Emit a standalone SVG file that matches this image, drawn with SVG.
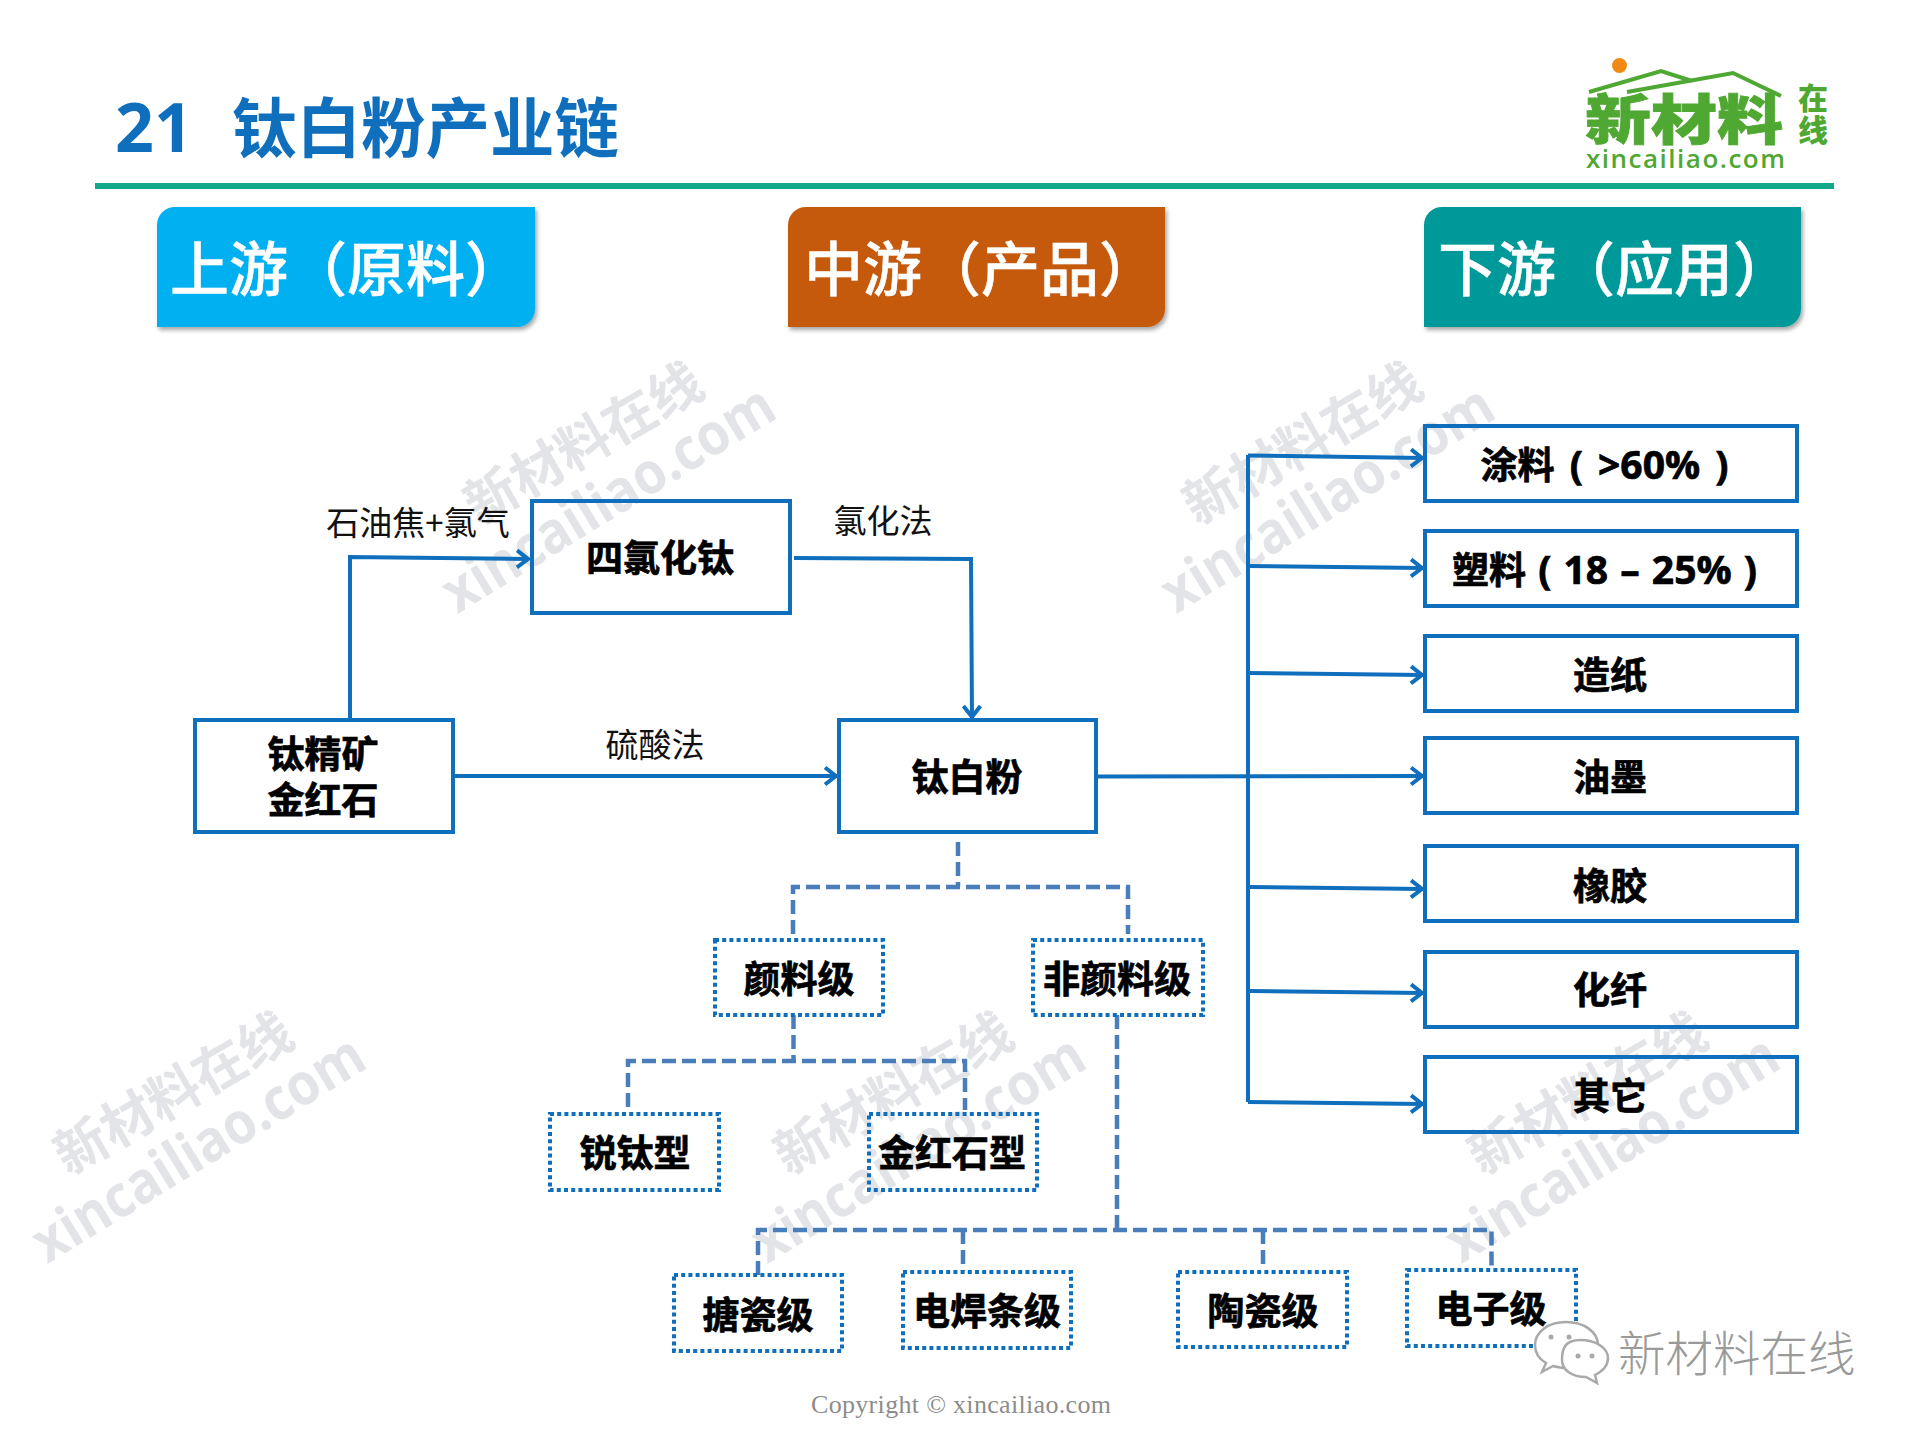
<svg xmlns="http://www.w3.org/2000/svg" width="1920" height="1440" viewBox="0 0 1920 1440">
<style>
text{font-family:"Noto Sans CJK SC","Noto Sans",sans-serif}
.box{fill:none;stroke:#0F6FBD;stroke-width:4}
.dot{fill:none;stroke:#0F6FBD;stroke-width:4;stroke-dasharray:4 3.2}
.lab{font-size:37px;font-weight:700;fill:#000;text-anchor:middle;stroke:#000;stroke-width:.7}
.thin{font-size:33px;fill:#111;text-anchor:middle}
.head{font-size:59px;fill:#fff;font-weight:500;stroke:#fff;stroke-width:.5}
.wm{font-weight:700;fill:#E2E4E7}
.wm1{font-size:53px}
.wm2{font-size:58px;font-family:"Open Sans",sans-serif}
.con{fill:none;stroke:#0F6FBD;stroke-width:4}
.arr{marker-end:url(#a)}
.dash{fill:none;stroke:#4A7EBB;stroke-width:4.500;stroke-dasharray:14 6}
.lat{font-family:"Open Sans","Noto Sans CJK SC",sans-serif;font-size:39px}
</style>
<defs>
<marker id="a" markerUnits="userSpaceOnUse" markerWidth="24" markerHeight="24" viewBox="0 0 24 24" refX="20" refY="12" orient="auto"><path d="M8,3.500L19,12L8,20.500" fill="none" stroke="#0F6FBD" stroke-width="4"/></marker>
<filter id="s" x="-5%" y="-5%" width="112%" height="115%"><feDropShadow dx="2" dy="3" stdDeviation="2" flood-color="#000" flood-opacity=".35"/></filter>
</defs>
<rect width="1920" height="1440" fill="#fff"/>
<g id="watermarks">
<g transform="translate(478,526) rotate(-30)"><text class="wm wm1">新材料在线</text><text class="wm wm2" transform="translate(-62,66) rotate(-1.500)" textLength="378" lengthAdjust="spacingAndGlyphs">xincailiao.com</text></g>
<g transform="translate(1197,526) rotate(-30)"><text class="wm wm1">新材料在线</text><text class="wm wm2" transform="translate(-62,66) rotate(-1.500)" textLength="378" lengthAdjust="spacingAndGlyphs">xincailiao.com</text></g>
<g transform="translate(68,1176) rotate(-30)"><text class="wm wm1">新材料在线</text><text class="wm wm2" transform="translate(-62,66) rotate(-1.500)" textLength="378" lengthAdjust="spacingAndGlyphs">xincailiao.com</text></g>
<g transform="translate(788,1176) rotate(-30)"><text class="wm wm1">新材料在线</text><text class="wm wm2" transform="translate(-62,66) rotate(-1.500)" textLength="378" lengthAdjust="spacingAndGlyphs">xincailiao.com</text></g>
<g transform="translate(1482,1176) rotate(-30)"><text class="wm wm1">新材料在线</text><text class="wm wm2" transform="translate(-62,66) rotate(-1.500)" textLength="378" lengthAdjust="spacingAndGlyphs">xincailiao.com</text></g>
</g>
<g id="title">
<text x="115" y="152" font-size="68" font-weight="700" fill="#0F6FBD" style="font-family:'Open Sans',sans-serif">21</text>
<text x="232" y="152" font-size="64.500" font-weight="700" fill="#0F6FBD">钛白粉产业链</text>
<rect x="95" y="183" width="1739" height="6" fill="#14A88A"/>
</g>
<g id="logo">
<circle cx="1619.500" cy="65.500" r="7.500" fill="#F08A12"/>
<path d="M1589,92L1661,71L1692,81M1627,92L1733,73L1781,96" fill="none" stroke="#4FA832" stroke-width="4"/>
<text transform="translate(1585,140) scale(1,.82)" font-size="66" font-weight="900" fill="#4FA832" stroke="#4FA832" stroke-width="1">新材料</text>
<text x="1798" y="109" font-size="30" font-weight="900" fill="#4FA832">在</text>
<text x="1798" y="141" font-size="30" font-weight="900" fill="#4FA832">线</text>
<text x="1586" y="168" font-size="26" font-weight="600" fill="#4FA832" textLength="199" style="font-family:'Open Sans',sans-serif">xincailiao.com</text>
</g>
<g id="head-up"><path d="M175,207H535V309A18,18 0 0 1 517,327H157V225A18,18 0 0 1 175,207Z" fill="#00B0F0" filter="url(#s)"/><text class="head" x="170" y="291">上游（原料）</text></g>
<g id="head-mid"><path d="M806,207H1165V309A18,18 0 0 1 1147,327H788V225A18,18 0 0 1 806,207Z" fill="#C55A11" filter="url(#s)"/><text class="head" x="804" y="291">中游（产品）</text></g>
<g id="head-down"><path d="M1442,207H1801V309A18,18 0 0 1 1783,327H1424V225A18,18 0 0 1 1442,207Z" fill="#009999" filter="url(#s)"/><text class="head" x="1438" y="291">下游（应用）</text></g>
<g id="connectors">
<path class="con arr" d="M350,718V557L529,559"/>
<path class="con arr" d="M794,558L971,559L972,718"/>
<path class="con arr" d="M454,776H837"/>
<path class="con" d="M1248,455V1102"/>
<path class="con arr" d="M1096,776.500L1423,776"/>
<path class="con arr" d="M1248,455.500L1423,458"/>
<path class="con arr" d="M1248,566L1423,568"/>
<path class="con arr" d="M1248,673L1423,675"/>
<path class="con arr" d="M1248,887L1423,889"/>
<path class="con arr" d="M1248,991L1423,993"/>
<path class="con arr" d="M1248,1102L1423,1104"/>
<path class="dash" d="M958,842V887M793,934V887H1128V934"/>
<path class="dash" d="M793.500,1015V1061M628,1107V1061H965V1110"/>
<path class="dash" d="M1117,1015V1230M758,1275V1230H1491.500V1269M963,1230V1271M1263,1230V1267"/>
</g>
<g id="n-ticl4"><rect class="box" x="532" y="501" width="258" height="112"/><text class="lab" x="660" y="572">四氯化钛</text></g>
<g id="n-ore"><rect class="box" x="195" y="720" width="258" height="112"/><text class="lab" x="323" y="768">钛精矿</text><text class="lab" x="323" y="814">金红石</text></g>
<g id="n-tio2"><rect class="box" x="839" y="720" width="257" height="112"/><text class="lab" x="967" y="791">钛白粉</text></g>
<g id="n-paint"><rect class="box" x="1425" y="426" width="372" height="75"/><text class="lab lat" x="1604.500" y="479" word-spacing="5"><tspan style="font-family:'Noto Sans CJK SC'" font-size="37">涂料</tspan> ( &gt;60% )</text></g>
<g id="n-plastic"><rect class="box" x="1425" y="531" width="372" height="75"/><text class="lab lat" x="1604.500" y="584" word-spacing="2"><tspan style="font-family:'Noto Sans CJK SC'" font-size="37">塑料</tspan> ( 18 – 25% )</text></g>
<g id="n-paper"><rect class="box" x="1425" y="636" width="372" height="75"/><text class="lab" x="1610" y="689">造纸</text></g>
<g id="n-ink"><rect class="box" x="1425" y="738" width="372" height="75"/><text class="lab" x="1610" y="791">油墨</text></g>
<g id="n-rubber"><rect class="box" x="1425" y="846" width="372" height="75"/><text class="lab" x="1610" y="900">橡胶</text></g>
<g id="n-fiber"><rect class="box" x="1425" y="952" width="372" height="75"/><text class="lab" x="1610" y="1004">化纤</text></g>
<g id="n-other"><rect class="box" x="1425" y="1057" width="372" height="75"/><text class="lab" x="1610" y="1110">其它</text></g>
<g id="n-pig"><rect class="dot" x="715" y="940" width="168" height="75"/><text class="lab" x="799" y="993">颜料级</text></g>
<g id="n-nonpig"><rect class="dot" x="1033" y="940" width="170" height="75"/><text class="lab" x="1117" y="993">非颜料级</text></g>
<g id="n-anatase"><rect class="dot" x="550" y="1114" width="169" height="76"/><text class="lab" x="635" y="1167">锐钛型</text></g>
<g id="n-rutile"><rect class="dot" x="869" y="1114" width="168" height="76"/><text class="lab" x="952" y="1167">金红石型</text></g>
<g id="n-enamel"><rect class="dot" x="674" y="1275" width="168" height="76"/><text class="lab" x="758" y="1329">搪瓷级</text></g>
<g id="n-weld"><rect class="dot" x="903" y="1272" width="168" height="76"/><text class="lab" x="987" y="1325">电焊条级</text></g>
<g id="n-ceramic"><rect class="dot" x="1178" y="1272" width="169" height="75"/><text class="lab" x="1263" y="1325">陶瓷级</text></g>
<g id="n-elec"><rect class="dot" x="1407" y="1270" width="169" height="76"/><text class="lab" x="1491" y="1323">电子级</text></g>
<g id="labels">
<text class="thin" x="418" y="535">石油焦+氯气</text>
<text class="thin" x="883" y="533">氯化法</text>
<text class="thin" x="655" y="757">硫酸法</text>
<text x="811" y="1413" font-size="26" fill="#8C8C8C" textLength="300" style="font-family:'Liberation Serif',serif">Copyright © xincailiao.com</text>
</g>
<g id="wechat">
<path d="M1566,1322C1548,1322 1535,1332 1535,1345C1535,1353 1539,1359 1546,1363L1542,1372L1553,1366C1557,1367 1561,1368 1566,1368C1584,1368 1598,1357 1598,1345C1598,1332 1584,1322 1566,1322Z" fill="#fff" stroke="#A9A9A9" stroke-width="2.500"/>
<path d="M1580,1340C1564,1340 1562,1350 1562,1360C1562,1370 1572,1377 1586,1377L1597,1383L1595,1375C1603,1371 1608,1366 1608,1358C1608,1348 1596,1340 1580,1340Z" fill="#fff" stroke="#A9A9A9" stroke-width="2.500"/>
<circle cx="1551" cy="1337" r="2.500" fill="#A9A9A9"/><circle cx="1569" cy="1337" r="2.500" fill="#A9A9A9"/><circle cx="1578" cy="1356" r="2.500" fill="#A9A9A9"/><circle cx="1592" cy="1356" r="2.500" fill="#A9A9A9"/>
<text x="1618" y="1371" font-size="47.500" font-weight="300" fill="#9A9A9A">新材料在线</text>
</g>
</svg>
